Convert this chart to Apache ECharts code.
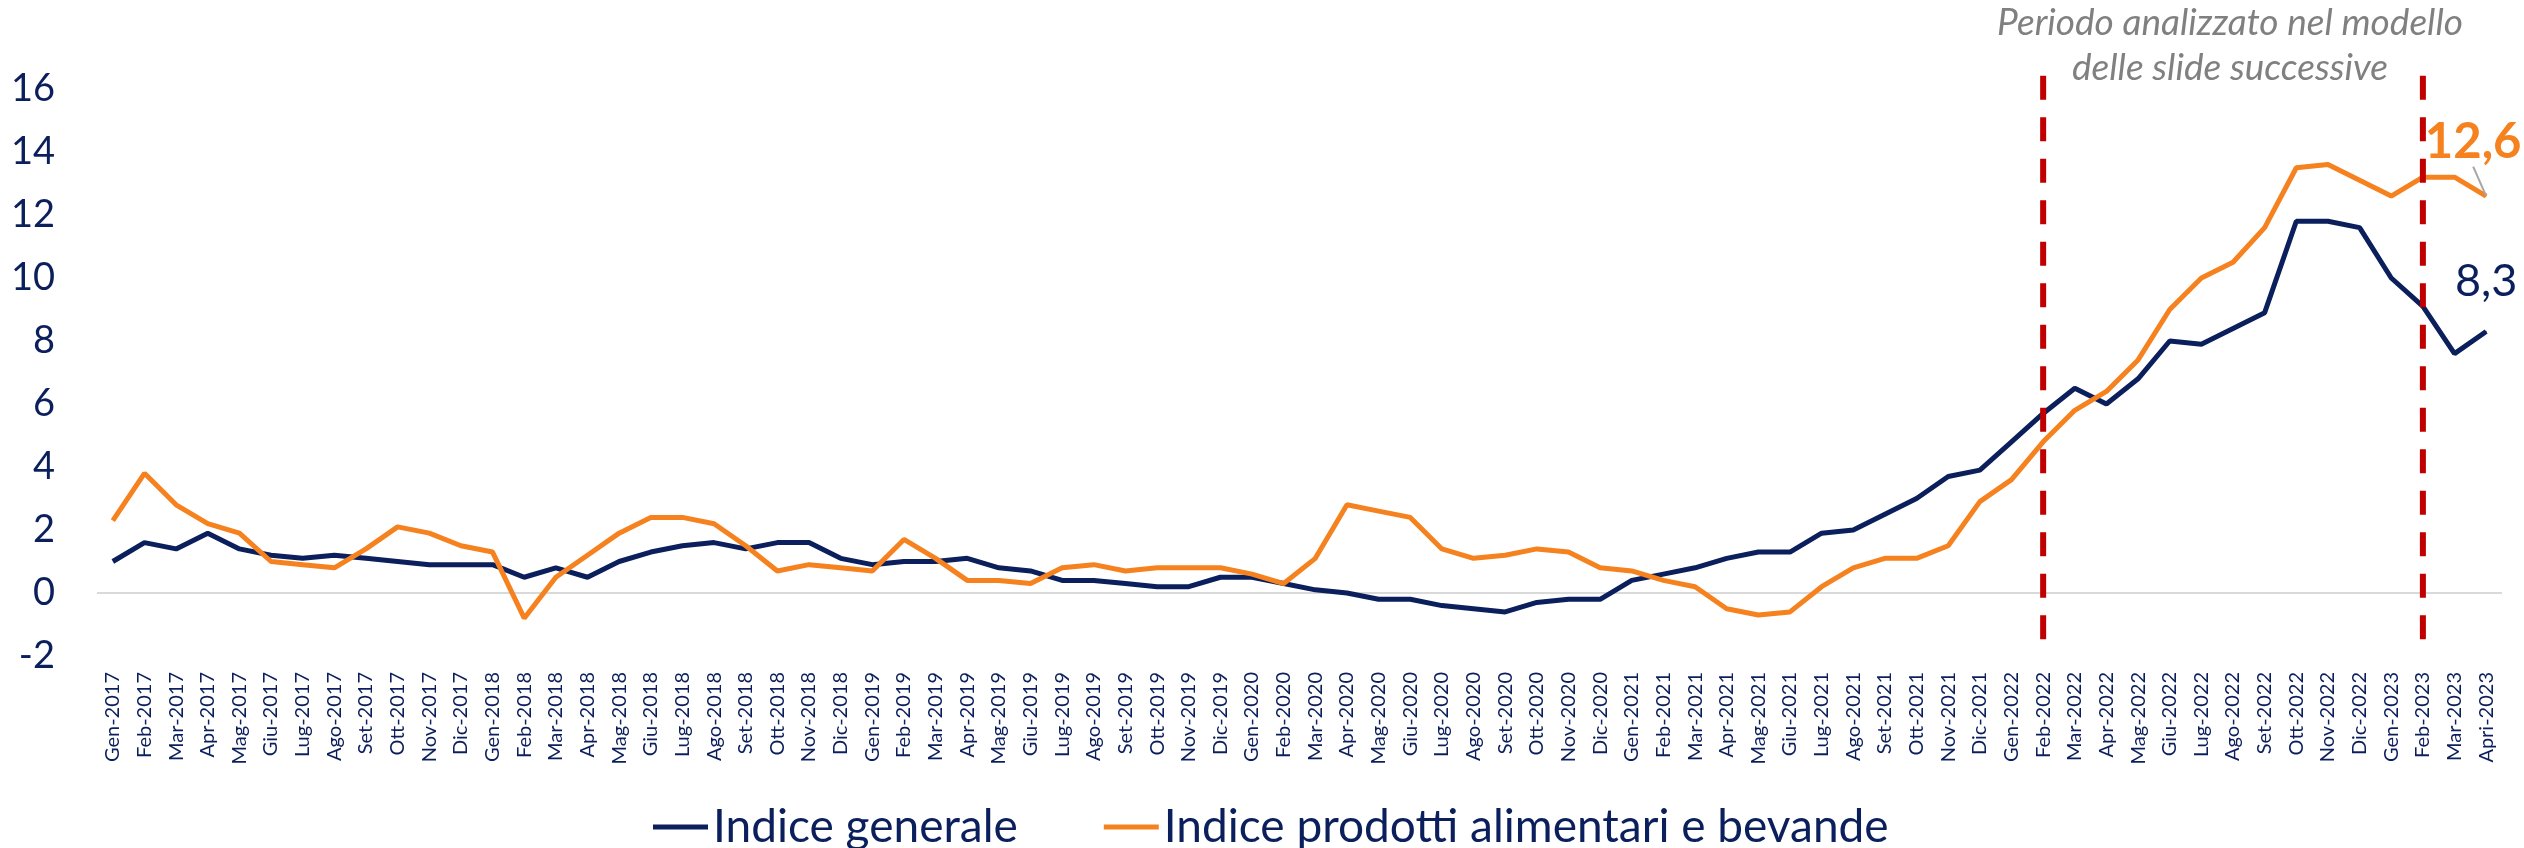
<!DOCTYPE html>
<html>
<head>
<meta charset="utf-8">
<script src="https://cdn.jsdelivr.net/npm/echarts@6/dist/echarts.min.js"></script>
<style>
html,body{margin:0;padding:0;background:#fff;}
#chart{width:2524px;height:848px;}
</style>
</head>
<body>
<div id="chart"></div>
<script>
const categories = [
  'Gen-2017','Feb-2017','Mar-2017','Apr-2017','Mag-2017','Giu-2017','Lug-2017','Ago-2017','Set-2017','Ott-2017','Nov-2017','Dic-2017',
  'Gen-2018','Feb-2018','Mar-2018','Apr-2018','Mag-2018','Giu-2018','Lug-2018','Ago-2018','Set-2018','Ott-2018','Nov-2018','Dic-2018',
  'Gen-2019','Feb-2019','Mar-2019','Apr-2019','Mag-2019','Giu-2019','Lug-2019','Ago-2019','Set-2019','Ott-2019','Nov-2019','Dic-2019',
  'Gen-2020','Feb-2020','Mar-2020','Apr-2020','Mag-2020','Giu-2020','Lug-2020','Ago-2020','Set-2020','Ott-2020','Nov-2020','Dic-2020',
  'Gen-2021','Feb-2021','Mar-2021','Apr-2021','Mag-2021','Giu-2021','Lug-2021','Ago-2021','Set-2021','Ott-2021','Nov-2021','Dic-2021',
  'Gen-2022','Feb-2022','Mar-2022','Apr-2022','Mag-2022','Giu-2022','Lug-2022','Ago-2022','Set-2022','Ott-2022','Nov-2022','Dic-2022',
  'Gen-2023','Feb-2023','Mar-2023','Apri-2023'
];
const indiceGenerale = [
  1.0,1.6,1.4,1.9,1.4,1.2,1.1,1.2,1.1,1.0,0.9,0.9,
  0.9,0.5,0.8,0.5,1.0,1.3,1.5,1.6,1.4,1.6,1.6,1.1,
  0.9,1.0,1.0,1.1,0.8,0.7,0.4,0.4,0.3,0.2,0.2,0.5,
  0.5,0.3,0.1,0.0,-0.2,-0.2,-0.4,-0.5,-0.6,-0.3,-0.2,-0.2,
  0.4,0.6,0.8,1.1,1.3,1.3,1.9,2.0,2.5,3.0,3.7,3.9,
  4.8,5.7,6.5,6.0,6.8,8.0,7.9,8.4,8.9,11.8,11.8,11.6,
  10.0,9.1,7.6,8.3
];
const indiceAlimentari = [
  2.3,3.8,2.8,2.2,1.9,1.0,0.9,0.8,1.4,2.1,1.9,1.5,
  1.3,-0.8,0.5,1.2,1.9,2.4,2.4,2.2,1.5,0.7,0.9,0.8,
  0.7,1.7,1.1,0.4,0.4,0.3,0.8,0.9,0.7,0.8,0.8,0.8,
  0.6,0.3,1.1,2.8,2.6,2.4,1.4,1.1,1.2,1.4,1.3,0.8,
  0.7,0.4,0.2,-0.5,-0.7,-0.6,0.2,0.8,1.1,1.1,1.5,2.9,
  3.6,4.8,5.8,6.4,7.4,9.0,10.0,10.5,11.6,13.5,13.6,13.1,
  12.6,13.2,13.2,12.6
];
const yTicks = { min: -2, max: 16, interval: 2 };
const periodBounds = ['Feb-2022', 'Feb-2023'];
const annotationText = 'Periodo analizzato nel modello\ndelle slide successive';
const seriesNames = ['Indice generale', 'Indice prodotti alimentari e bevande'];

const NAVY = '#0b1f5c';
const ORANGE = '#f5821f';
const RED = '#c00000';
const FONT = 'Lato';

function fmt(v){ return String(v).replace('.', ','); }

function withEndLabel(values, labelOpt) {
  return values.map((v, i) => {
    if (i !== values.length - 1) return v;
    return {
      value: v,
      symbol: 'circle',
      symbolSize: 1,
      label: Object.assign({ show: true, formatter: fmt(v) }, labelOpt)
    };
  });
}

const chart = echarts.init(document.getElementById('chart'), null, { renderer: 'canvas' });

const option = {
  animation: false,
  backgroundColor: '#ffffff',
  grid: { left: 97, right: 22, top: 89, bottom: 192, containLabel: false },
  legend: {
    left: 648,
    top: 797,
    icon: 'rect',
    itemWidth: 55,
    itemHeight: 5,
    itemGap: 86,
    textStyle: { fontFamily: FONT, fontSize: 46, lineHeight: 50, color: NAVY },
    data: seriesNames
  },
  xAxis: {
    type: 'category',
    data: categories,
    boundaryGap: true,
    axisLine: { show: false },
    axisTick: { show: false },
    axisLabel: {
      interval: 0,
      rotate: 90,
      margin: 16,
      fontFamily: FONT,
      fontSize: 20,
      color: NAVY
    }
  },
  yAxis: {
    type: 'value',
    min: yTicks.min,
    max: yTicks.max,
    interval: yTicks.interval,
    axisLine: { show: false },
    axisTick: { show: false },
    splitLine: { show: false },
    axisLabel: {
      margin: 42,
      fontFamily: FONT,
      fontSize: 38,
      color: NAVY
    }
  },
  series: [
    {
      name: seriesNames[0],
      type: 'line',
      symbol: 'none',
      showSymbol: true,
      z: 3,
      lineStyle: { color: NAVY, width: 5 },
      itemStyle: { color: NAVY },
      data: withEndLabel(indiceGenerale, {
        position: 'inside',
        offset: [0, -50],
        fontFamily: FONT,
        fontSize: 45,
        color: NAVY
      }),
      markLine: {
        silent: true,
        symbol: 'none',
        z: 1,
        label: { show: false },
        lineStyle: { color: '#d9d9d9', width: 2, type: 'solid' },
        data: [{ yAxis: 0 }]
      }
    },
    {
      name: seriesNames[1],
      type: 'line',
      symbol: 'none',
      showSymbol: true,
      z: 4,
      lineStyle: { color: ORANGE, width: 5 },
      itemStyle: { color: ORANGE },
      labelLayout: { dx: -13, dy: -54 },
      labelLine: { show: true, lineStyle: { color: '#a6a6a6', width: 2 } },
      data: withEndLabel(indiceAlimentari, {
        position: 'inside',
        fontFamily: FONT,
        fontSize: 49,
        fontWeight: 'bold',
        color: ORANGE
      })
    }
  ]
};

chart.setOption(option);

function drawOverlays() {
  const elements = [];
  periodBounds.forEach((cat, i) => {
    const top = chart.convertToPixel({ gridIndex: 0 }, [cat, 16.42]);
    const bot = chart.convertToPixel({ gridIndex: 0 }, [cat, -1.6]);
    elements.push({
      type: 'line',
      id: 'period' + i,
      z: 10,
      shape: { x1: top[0], y1: top[1], x2: bot[0], y2: bot[1] },
      style: { stroke: RED, lineWidth: 6, lineDash: [24, 17.5] }
    });
  });
  const a = chart.convertToPixel({ gridIndex: 0 }, [periodBounds[0], 0]);
  const b = chart.convertToPixel({ gridIndex: 0 }, [periodBounds[1], 0]);
  elements.push({
    type: 'text',
    id: 'annot',
    z: 11,
    x: (a[0] + b[0]) / 2 - 3,
    y: 46,
    style: {
      text: annotationText,
      fontFamily: FONT,
      fontStyle: 'italic',
      fontSize: 37,
      lineHeight: 45,
      fill: '#808080',
      align: 'center',
      verticalAlign: 'middle'
    }
  });
  chart.setOption({ graphic: { elements: elements } });
}
drawOverlays();
</script>
</body>
</html>
